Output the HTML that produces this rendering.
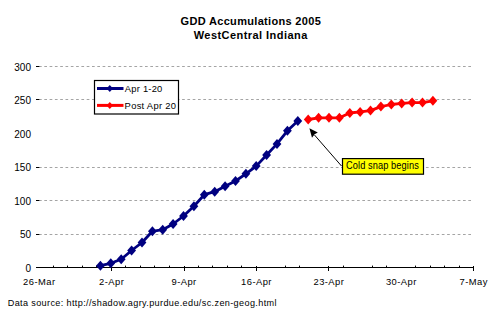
<!DOCTYPE html>
<html><head><meta charset="utf-8"><style>
html,body{margin:0;padding:0;background:#fff;width:500px;height:312px;overflow:hidden}
svg{display:block}
text{font-family:"Liberation Sans",sans-serif;fill:#000}
</style></head><body>
<svg width="500" height="312" viewBox="0 0 500 312">
<g font-weight="bold" font-size="11" fill="#000">
<text x="180.6" y="24.8" textLength="140.2" lengthAdjust="spacing">GDD Accumulations 2005</text>
<text x="193.7" y="39.1" textLength="113.6" lengthAdjust="spacing">WestCentral Indiana</text>
</g>
<g stroke="#a4a4a4" stroke-width="1" stroke-dasharray="2.7,2.6"><line x1="39" y1="66.5" x2="472" y2="66.5"/><line x1="39" y1="99.5" x2="472" y2="99.5"/><line x1="39" y1="167.5" x2="472" y2="167.5"/><line x1="39" y1="200.5" x2="472" y2="200.5"/><line x1="39" y1="234.5" x2="472" y2="234.5"/></g>
<g stroke="#000" stroke-width="1"><line x1="36" y1="66.5" x2="39.3" y2="66.5"/><line x1="36" y1="99.5" x2="39.3" y2="99.5"/><line x1="36" y1="167.5" x2="39.3" y2="167.5"/><line x1="36" y1="200.5" x2="39.3" y2="200.5"/><line x1="36" y1="234.5" x2="39.3" y2="234.5"/><line x1="36" y1="267.5" x2="39.3" y2="267.5"/></g>
<g font-size="10" text-anchor="end"><text x="31" y="70.8">300</text><text x="31" y="104.3">250</text><text x="31" y="137.8">200</text><text x="31" y="171.3">150</text><text x="31" y="204.8">100</text><text x="31" y="238.3">50</text><text x="31" y="271.8">0</text></g>
<line x1="36" y1="267.5" x2="474" y2="267.5" stroke="#000" stroke-width="1.2"/>
<g stroke="#000" stroke-width="1"><line x1="111.5" y1="266" x2="111.5" y2="271"/><line x1="184.5" y1="266" x2="184.5" y2="271"/><line x1="256.5" y1="266" x2="256.5" y2="271"/><line x1="328.5" y1="266" x2="328.5" y2="271"/><line x1="473.5" y1="266" x2="473.5" y2="271"/><line x1="53.5" y1="265.6" x2="53.5" y2="267.5"/><line x1="67.5" y1="265.6" x2="67.5" y2="267.5"/><line x1="82.5" y1="265.6" x2="82.5" y2="267.5"/><line x1="96.5" y1="265.6" x2="96.5" y2="267.5"/><line x1="125.5" y1="265.6" x2="125.5" y2="267.5"/><line x1="140.5" y1="265.6" x2="140.5" y2="267.5"/><line x1="154.5" y1="265.6" x2="154.5" y2="267.5"/><line x1="169.5" y1="265.6" x2="169.5" y2="267.5"/><line x1="198.5" y1="265.6" x2="198.5" y2="267.5"/><line x1="212.5" y1="265.6" x2="212.5" y2="267.5"/><line x1="227.5" y1="265.6" x2="227.5" y2="267.5"/><line x1="241.5" y1="265.6" x2="241.5" y2="267.5"/><line x1="285.5" y1="265.6" x2="285.5" y2="267.5"/><line x1="299.5" y1="265.6" x2="299.5" y2="267.5"/><line x1="343.5" y1="265.6" x2="343.5" y2="267.5"/><line x1="372.5" y1="265.6" x2="372.5" y2="267.5"/><line x1="386.5" y1="265.6" x2="386.5" y2="267.5"/><line x1="415.5" y1="265.6" x2="415.5" y2="267.5"/><line x1="430.5" y1="265.6" x2="430.5" y2="267.5"/><line x1="444.5" y1="265.6" x2="444.5" y2="267.5"/><line x1="459.5" y1="265.6" x2="459.5" y2="267.5"/></g>
<g font-size="9.4" text-anchor="middle" letter-spacing="0.45"><text x="39.3" y="285.4">26-Mar</text><text x="111.7" y="285.4">2-Apr</text><text x="184.1" y="285.4">9-Apr</text><text x="256.5" y="285.4">16-Apr</text><text x="328.9" y="285.4">23-Apr</text><text x="401.3" y="285.4">30-Apr</text><text x="473.7" y="285.4">7-May</text></g>
<polyline points="100.4,265.7 110.8,263.3 121.2,259.2 131.6,250.5 142.0,242.5 152.4,231.3 162.7,229.7 173.1,224.0 183.5,216.0 193.9,206.2 204.3,194.7 214.7,191.7 225.1,186.2 235.5,181.0 245.9,173.8 256.2,166.1 266.6,155.0 277.0,143.9 287.4,130.8 297.8,121.0" fill="none" stroke="#000080" stroke-width="2.8" stroke-linejoin="round"/>
<g fill="#000080"><path d="M100.4 260.7L104.8 265.7L100.4 270.7L96.0 265.7Z"/><path d="M110.8 258.3L115.2 263.3L110.8 268.3L106.4 263.3Z"/><path d="M121.2 254.2L125.6 259.2L121.2 264.2L116.8 259.2Z"/><path d="M131.6 245.5L136.0 250.5L131.6 255.5L127.2 250.5Z"/><path d="M142.0 237.5L146.4 242.5L142.0 247.5L137.6 242.5Z"/><path d="M152.4 226.3L156.8 231.3L152.4 236.3L148.0 231.3Z"/><path d="M162.7 224.7L167.1 229.7L162.7 234.7L158.3 229.7Z"/><path d="M173.1 219.0L177.5 224.0L173.1 229.0L168.7 224.0Z"/><path d="M183.5 211.0L187.9 216.0L183.5 221.0L179.1 216.0Z"/><path d="M193.9 201.2L198.3 206.2L193.9 211.2L189.5 206.2Z"/><path d="M204.3 189.7L208.7 194.7L204.3 199.7L199.9 194.7Z"/><path d="M214.7 186.7L219.1 191.7L214.7 196.7L210.3 191.7Z"/><path d="M225.1 181.2L229.5 186.2L225.1 191.2L220.7 186.2Z"/><path d="M235.5 176.0L239.9 181.0L235.5 186.0L231.1 181.0Z"/><path d="M245.9 168.8L250.3 173.8L245.9 178.8L241.5 173.8Z"/><path d="M256.2 161.1L260.6 166.1L256.2 171.1L251.8 166.1Z"/><path d="M266.6 150.0L271.0 155.0L266.6 160.0L262.2 155.0Z"/><path d="M277.0 138.9L281.4 143.9L277.0 148.9L272.6 143.9Z"/><path d="M287.4 125.8L291.8 130.8L287.4 135.8L283.0 130.8Z"/><path d="M297.8 116.0L302.2 121.0L297.8 126.0L293.4 121.0Z"/></g>
<polyline points="308.2,119.5 318.6,117.8 329.0,117.8 339.4,117.8 349.8,113.0 360.1,111.9 370.5,110.6 380.9,106.6 391.3,104.5 401.7,103.4 412.1,102.6 422.5,102.6 432.9,100.8" fill="none" stroke="#ff0000" stroke-width="2.8" stroke-linejoin="round"/>
<g fill="#ff0000"><path d="M308.2 114.5L312.6 119.5L308.2 124.5L303.8 119.5Z"/><path d="M318.6 112.8L323.0 117.8L318.6 122.8L314.2 117.8Z"/><path d="M329.0 112.8L333.4 117.8L329.0 122.8L324.6 117.8Z"/><path d="M339.4 112.8L343.8 117.8L339.4 122.8L335.0 117.8Z"/><path d="M349.8 108.0L354.2 113.0L349.8 118.0L345.4 113.0Z"/><path d="M360.1 106.9L364.5 111.9L360.1 116.9L355.8 111.9Z"/><path d="M370.5 105.6L374.9 110.6L370.5 115.6L366.1 110.6Z"/><path d="M380.9 101.6L385.3 106.6L380.9 111.6L376.5 106.6Z"/><path d="M391.3 99.5L395.7 104.5L391.3 109.5L386.9 104.5Z"/><path d="M401.7 98.4L406.1 103.4L401.7 108.4L397.3 103.4Z"/><path d="M412.1 97.6L416.5 102.6L412.1 107.6L407.7 102.6Z"/><path d="M422.5 97.6L426.9 102.6L422.5 107.6L418.1 102.6Z"/><path d="M432.9 95.8L437.3 100.8L432.9 105.8L428.5 100.8Z"/></g>
<rect x="94.5" y="80.5" width="84" height="33.5" fill="#fff" stroke="#000" stroke-width="1.2"/>
<line x1="97" y1="88.5" x2="123.5" y2="88.5" stroke="#000080" stroke-width="3"/>
<path d="M109.8 85L113 88.5L109.8 92L106.6 88.5Z" fill="#000080"/>
<line x1="97" y1="105.4" x2="123.5" y2="105.4" stroke="#ff0000" stroke-width="3"/>
<path d="M109.8 101.9L113 105.4L109.8 108.9L106.6 105.4Z" fill="#ff0000"/>
<g font-size="9.4"><text x="124.8" y="91.8" textLength="37.5" lengthAdjust="spacing">Apr 1-20</text><text x="124.6" y="108.6" textLength="51.3" lengthAdjust="spacing">Post Apr 20</text></g>
<line x1="341.5" y1="166" x2="314.5" y2="135" stroke="#000" stroke-width="1"/>
<path d="M309.4 128.2L317.8 132.6L314.6 134.2L312 137.8Z" fill="#000"/>
<rect x="342.5" y="158.6" width="81" height="15.6" fill="#ffff00" stroke="#000" stroke-width="1.2"/>
<text transform="translate(346,168.9) scale(0.88,1)" x="0" y="0" font-size="10.5" textLength="82.73" lengthAdjust="spacing">Cold snap begins</text>
<text x="7.7" y="305.9" font-size="9.1" textLength="268.8" lengthAdjust="spacing">Data source: http://shadow.agry.purdue.edu/sc.zen-geog.html</text>
</svg>
</body></html>
